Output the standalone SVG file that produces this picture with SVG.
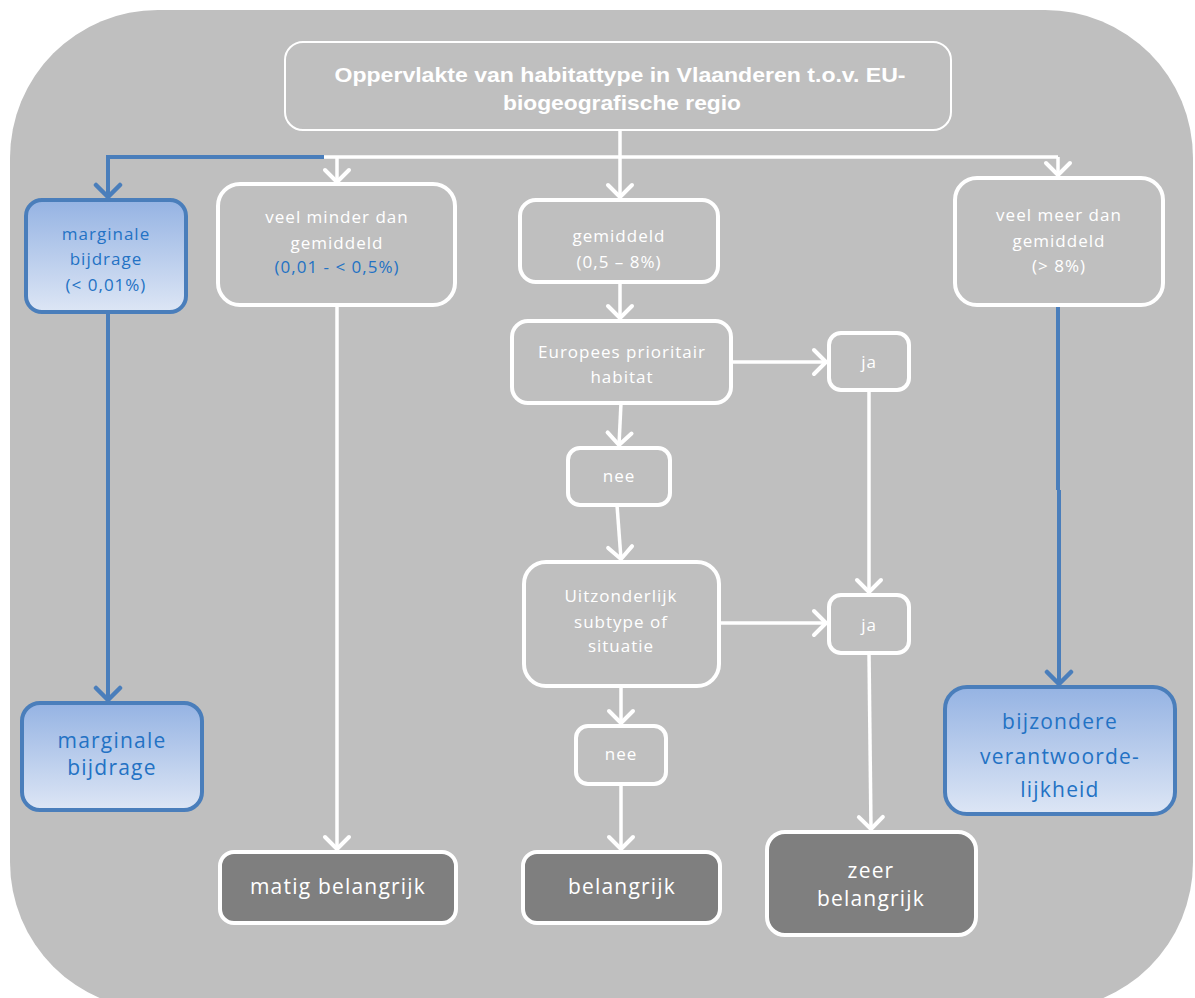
<svg xmlns="http://www.w3.org/2000/svg" width="1195" height="998" viewBox="0 0 1195 998">
<style>
.w{fill:none;stroke:#fff;stroke-width:4}
.t{fill:none;stroke:#fff;stroke-width:2}
.d{fill:#7f7f7f;stroke:#fff;stroke-width:4}
.b{fill:url(#bg);stroke:#4a7ebb;stroke-width:4}
text{font-family:"Open Sans","Noto Sans","DejaVu Sans",sans-serif;text-anchor:middle;fill:#fff}
.s{font-size:17px;letter-spacing:1px}
.m{font-size:21px;letter-spacing:1.2px}
.bt{fill:#2372c4}
.h{font-family:"Liberation Sans",Arial,sans-serif;font-weight:bold;font-size:21px;letter-spacing:0}
.cw{fill:none;stroke:#fff;stroke-width:3.5}
.cb{fill:none;stroke:#4a7ebb;stroke-width:4}
</style>
<defs>
<linearGradient id="bg" x1="0" y1="0" x2="0" y2="1">
<stop offset="0" stop-color="#95b3e3"/>
<stop offset="1" stop-color="#dde6f5"/>
</linearGradient>
<marker id="aw" markerUnits="userSpaceOnUse" markerWidth="30" markerHeight="30" viewBox="0 0 30 30" refX="25" refY="15" orient="auto">
<path d="M13,3 L25,15 L13,27" fill="none" stroke="#fff" stroke-width="4" stroke-linecap="round" stroke-linejoin="round"/>
</marker>
<marker id="ab" markerUnits="userSpaceOnUse" markerWidth="30" markerHeight="30" viewBox="0 0 30 30" refX="25" refY="15" orient="auto">
<path d="M13,3 L25,15 L13,27" fill="none" stroke="#4a7ebb" stroke-width="4.5" stroke-linecap="round" stroke-linejoin="round"/>
</marker>
</defs>
<rect x="10" y="10" width="1183" height="1000" rx="148" fill="#bfbfbf"/>
<g id="connectors">
<path class="cw" d="M620,130 V157 M322,157 H1058"/>
<path class="cb" d="M324,157 H108 V197" marker-end="url(#ab)"/>
<path class="cw" d="M337,157 V182" marker-end="url(#aw)"/>
<path class="cw" d="M620,157 V197" marker-end="url(#aw)"/>
<path class="cw" d="M1058,157 V175" marker-end="url(#aw)"/>
<path class="cb" d="M108,312 V700" marker-end="url(#ab)"/>
<path class="cw" d="M337,305 V849" marker-end="url(#aw)"/>
<path class="cb" d="M1058,305 V490 M1059,490 V684" marker-end="url(#ab)"/>
<path class="cw" d="M620,282 V318" marker-end="url(#aw)"/>
<path class="cw" d="M731,362 H826" marker-end="url(#aw)"/>
<path class="cw" d="M621,403 L619,445" marker-end="url(#aw)"/>
<path class="cw" d="M617,505 L621,559" marker-end="url(#aw)"/>
<path class="cw" d="M719,623 H826" marker-end="url(#aw)"/>
<path class="cw" d="M869,390 V592" marker-end="url(#aw)"/>
<path class="cw" d="M621,686 V723" marker-end="url(#aw)"/>
<path class="cw" d="M621,784 V849" marker-end="url(#aw)"/>
<path class="cw" d="M869,653 L871,829" marker-end="url(#aw)"/>
</g>
<g id="top">
<rect class="t" x="285" y="42" width="666" height="88" rx="18"/>
<text class="h" x="620" y="82" textLength="571" lengthAdjust="spacingAndGlyphs">Oppervlakte van habitattype in Vlaanderen t.o.v. EU-</text>
<text class="h" x="622" y="110" textLength="238" lengthAdjust="spacingAndGlyphs">biogeografische regio</text>
</g>
<g id="marginaal1">
<rect class="b" x="26" y="200" width="160" height="112" rx="16"/>
<text class="s bt" x="106" y="240">marginale</text>
<text class="s bt" x="106" y="265">bijdrage</text>
<text class="s bt" x="106" y="291">(&lt; 0,01%)</text>
</g>
<g id="veelminder">
<rect class="w" x="218" y="184" width="237" height="121" rx="22"/>
<text class="s" x="337" y="223">veel minder dan</text>
<text class="s" x="337" y="249">gemiddeld</text>
<text class="s bt" x="337" y="273">(0,01 - &lt; 0,5%)</text>
</g>
<g id="gemiddeld">
<rect class="w" x="520" y="200" width="198" height="82" rx="16"/>
<text class="s" x="619" y="242">gemiddeld</text>
<text class="s" x="619" y="268">(0,5 – 8%)</text>
</g>
<g id="veelmeer">
<rect class="w" x="955" y="178" width="208" height="127" rx="22"/>
<text class="s" x="1059" y="221">veel meer dan</text>
<text class="s" x="1059" y="247">gemiddeld</text>
<text class="s" x="1059" y="272">(&gt; 8%)</text>
</g>
<g id="europees">
<rect class="w" x="512" y="321" width="219" height="82" rx="16"/>
<text class="s" x="622" y="358">Europees prioritair</text>
<text class="s" x="622" y="383">habitat</text>
</g>
<g id="ja1">
<rect class="w" x="829" y="333" width="80" height="57" rx="12"/>
<text class="s" x="869" y="368">ja</text>
</g>
<g id="nee1">
<rect class="w" x="568" y="448" width="102" height="57" rx="12"/>
<text class="s" x="619" y="482">nee</text>
</g>
<g id="uitzonderlijk">
<rect class="w" x="524" y="562" width="195" height="124" rx="22"/>
<text class="s" x="621" y="602">Uitzonderlijk</text>
<text class="s" x="621" y="628">subtype of</text>
<text class="s" x="621" y="652">situatie</text>
</g>
<g id="ja2">
<rect class="w" x="829" y="595" width="80" height="58" rx="12"/>
<text class="s" x="869" y="631">ja</text>
</g>
<g id="nee2">
<rect class="w" x="576" y="726" width="90" height="58" rx="12"/>
<text class="s" x="621" y="760">nee</text>
</g>
<g id="marginaal2">
<rect class="b" x="22" y="703" width="180" height="107" rx="18"/>
<text class="m bt" x="112" y="748">marginale</text>
<text class="m bt" x="112" y="775">bijdrage</text>
</g>
<g id="bijzonder">
<rect class="b" x="945" y="687" width="230" height="127" rx="22"/>
<text class="m bt" x="1060" y="729">bijzondere</text>
<text class="m bt" x="1060" y="764">verantwoorde-</text>
<text class="m bt" x="1060" y="797">lijkheid</text>
</g>
<g id="matig">
<rect class="d" x="220" y="852" width="236" height="71" rx="14"/>
<text class="m" x="338" y="894">matig belangrijk</text>
</g>
<g id="belangrijk">
<rect class="d" x="523" y="852" width="197" height="71" rx="14"/>
<text class="m" x="622" y="894">belangrijk</text>
</g>
<g id="zeer">
<rect class="d" x="767" y="832" width="209" height="103" rx="18"/>
<text class="m" x="871" y="878">zeer</text>
<text class="m" x="871" y="906">belangrijk</text>
</g>
</svg>
